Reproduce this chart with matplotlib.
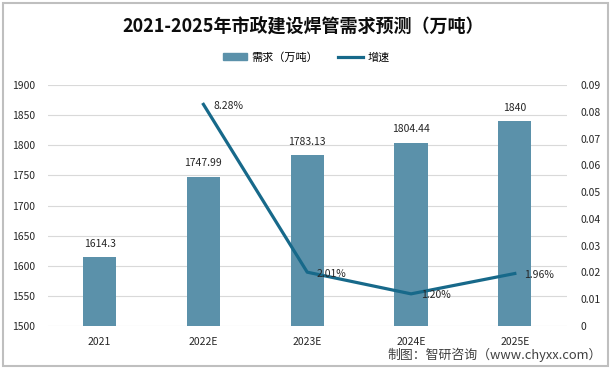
import matplotlib.pyplot as plt
from matplotlib.patches import Rectangle
from matplotlib.lines import Line2D
from matplotlib.ticker import MultipleLocator, FuncFormatter

plt.rcParams['font.family'] = ['Noto Sans CJK SC', 'DejaVu Sans']

years = ['2021', '2022E', '2023E', '2024E', '2025E']
demand = [1614.3, 1747.99, 1783.13, 1804.44, 1840]
demand_labels = ['1614.3', '1747.99', '1783.13', '1804.44', '1840']
growth_years = ['2022E', '2023E', '2024E', '2025E']
growth = [0.0828, 0.0201, 0.0120, 0.0196]
growth_labels = ['8.28%', '2.01%', '1.20%', '1.96%']

bar_color = '#5b91aa'
line_color = '#17698a'

fig = plt.figure(figsize=(6.12, 3.70), dpi=100)
ax = fig.add_axes([0.078, 0.119, 0.848, 0.651])
x = list(range(len(years)))
ax.bar(x, demand, width=0.32, color=bar_color, zorder=2)
ax.set_ylim(1500, 1900)
ax.set_xlim(-0.5, 4.5)
ax.yaxis.set_major_locator(MultipleLocator(50))
ax.set_xticks(x)
ax.set_xticklabels(years)
ax.grid(axis='y', color='#d9d9d9', linewidth=0.8, zorder=0)
for s in ax.spines.values():
    s.set_visible(False)
ax.tick_params(length=0, labelsize=7.5, colors='#262626')
ax.tick_params(axis='x', pad=8)
ax.tick_params(axis='y', pad=9)
for i, v in enumerate(demand):
    ax.annotate(demand_labels[i], (i, v), xytext=(0, 6), textcoords='offset points',
                ha='center', va='bottom', fontsize=7.5, color='#262626')

ax2 = ax.twinx()
gx = [years.index(y) for y in growth_years]
ax2.plot(gx, growth, color=line_color, linewidth=2.3, zorder=3)
ax2.set_ylim(0, 0.09)
ax2.yaxis.set_major_locator(MultipleLocator(0.01))
ax2.yaxis.set_major_formatter(FuncFormatter(lambda v, p: '0' if abs(v) < 1e-9 else '%.2f' % v))
for s in ax2.spines.values():
    s.set_visible(False)
ax2.tick_params(length=0, labelsize=7.5, colors='#262626', pad=10)
for xi, v, lab in zip(gx, growth, growth_labels):
    ax2.annotate(lab, (xi, v), xytext=(7, -1), textcoords='offset points',
                 ha='left', va='center', fontsize=7.5, color='#262626')

fig.text(0.495, 0.928, '2021-2025年市政建设焊管需求预测（万吨）', ha='center', va='center',
         fontsize=13, fontweight='bold', color='#0d0d0d')

handles = [Rectangle((0, 0), 1, 1, color=bar_color),
           Line2D([0], [0], color=line_color, linewidth=2.3)]
fig.legend(handles, ['需求（万吨）', '增速'], loc='center', bbox_to_anchor=(0.5, 0.845),
           ncol=2, frameon=False, fontsize=8, handlelength=2.2, handleheight=0.6,
           columnspacing=1.8, handletextpad=0.4)

fig.text(0.983, 0.04, '制图：智研咨询（www.chyxx.com）', ha='right', va='center',
         fontsize=9.3, color='#404040')

fig.patches.append(Rectangle((0.005, 0.01), 0.988, 0.982, transform=fig.transFigure,
                             fill=False, edgecolor='#bfbfbf', linewidth=1.5))

fig.savefig('out.png', dpi=100)
